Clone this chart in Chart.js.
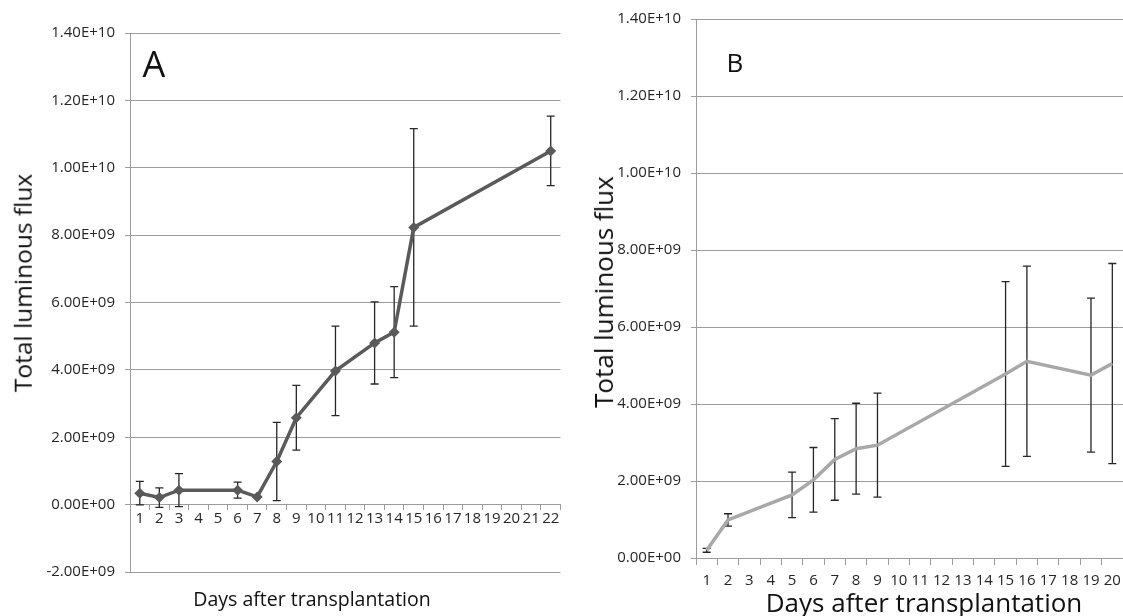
<!DOCTYPE html>
<html>
<head>
<meta charset="utf-8">
<script src="https://cdn.jsdelivr.net/npm/chart.js@4.4.1/dist/chart.umd.min.js"></script>
<style>
html,body{margin:0;padding:0;background:#fff;}
body{width:1123px;height:616px;position:relative;overflow:hidden;font-family:'Open Sans',sans-serif;color:#111;}
.box{position:absolute;top:0;height:616px;}
#boxA{left:0;width:566px;}
#boxB{left:566px;width:557px;}
.lbl{position:absolute;white-space:nowrap;line-height:1;transform:translate(-50%,-50%);}
.rot{transform:translate(-50%,-50%) rotate(-90deg);}
</style>
</head>
<body>
<div class="box" id="boxA"><canvas id="chartA" width="566" height="616"></canvas></div>
<div class="box" id="boxB"><canvas id="chartB" width="557" height="616"></canvas></div>

<div class="lbl" style="left:154px;top:64px;font-size:36px">A</div>
<div class="lbl" style="left:735px;top:62px;font-size:26px">B</div>
<div class="lbl rot" style="left:23px;top:283px;font-size:24.5px">Total luminous flux</div>
<div class="lbl rot" style="left:603px;top:292px;font-size:26px">Total luminous flux</div>
<div class="lbl" style="left:312px;top:599px;font-size:19.5px">Days after transplantation</div>
<div class="lbl" style="left:924px;top:602px;font-size:26px">Days after transplantation</div>

<script>
// panel A
const daysA = ['1','2','3','4','5','6','7','8','9','10','11','12','13','14','15','16','17','18','19','20','21','22'];
const fluxA = [0.34e9, 0.21e9, 0.43e9, null, null, 0.43e9, 0.23e9, 1.28e9, 2.58e9, null, 3.97e9, null,
               4.80e9, 5.12e9, 8.23e9, null, null, null, null, null, null, 10.5e9];
const errA  = [0.35e9, 0.29e9, 0.49e9, null, null, 0.24e9, 0, 1.16e9, 0.96e9, null, 1.33e9, null,
               1.22e9, 1.35e9, 2.93e9, null, null, null, null, null, null, 1.03e9];

// panel B
const daysB = ['1','2','3','4','5','6','7','8','9','10','11','12','13','14','15','16','17','18','19','20'];
const fluxB = [0.20e9, 0.99e9, null, null, 1.64e9, 2.03e9, 2.56e9, 2.84e9, 2.93e9, null, null, null,
               null, null, 4.78e9, 5.11e9, null, null, 4.75e9, 5.05e9];
const errB  = [0.05e9, 0.16e9, null, null, 0.59e9, 0.84e9, 1.06e9, 1.18e9, 1.35e9, null, null, null,
               null, null, 2.40e9, 2.47e9, null, null, 2.00e9, 2.60e9];

const GRID = '#9c9c9c';

function sci(v){
  if(Math.abs(v) < 1) return '0.00E+00';
  const [m,e] = v.toExponential(2).split('e');
  const n = parseInt(e,10);
  return m + 'E' + (n<0?'-':'+') + String(Math.abs(n)).padStart(2,'0');
}

// vertical error bars, drawn under the line
const errorBars = {
  id:'errorBars',
  beforeDatasetsDraw(chart, args, opts){
    const {ctx, scales:{y}} = chart;
    const meta = chart.getDatasetMeta(0);
    const vals = chart.data.datasets[0].data;
    ctx.save();
    ctx.strokeStyle = '#262626';
    ctx.lineWidth = 1.3;
    vals.forEach((v,i)=>{
      const e = opts.errors[i];
      if(v==null || !e) return;
      const px = meta.data[i].x;
      const top = y.getPixelForValue(v+e), bot = y.getPixelForValue(v-e);
      ctx.beginPath();
      ctx.moveTo(px, top); ctx.lineTo(px, bot);
      ctx.moveTo(px-opts.cap, top); ctx.lineTo(px+opts.cap, top);
      ctx.moveTo(px-opts.cap, bot); ctx.lineTo(px+opts.cap, bot);
      ctx.stroke();
    });
    ctx.restore();
  }
};

function makeChart(id, labels, values, errors, o){
  return new Chart(document.getElementById(id), {
    type:'line',
    data:{ labels, datasets:[{
      data: values,
      borderColor: o.color, backgroundColor: o.color,
      borderWidth: 3.5, tension: 0, spanGaps: true,
      pointStyle: 'rectRot', pointRadius: o.pointRadius, pointBorderWidth: 0
    }]},
    options:{
      responsive:false, animation:false,
      layout:{ padding:o.padding },
      plugins:{ legend:{display:false}, tooltip:{enabled:false}, errorBars:{errors, cap:4} },
      scales:{
        x:{
          type:'category', position:{y:0}, offset:true,
          afterFit(s){ s.paddingLeft = 0; s.paddingRight = 0; },
          grid:{ offset:true, drawOnChartArea:false, color:GRID, tickLength:o.xTick },
          border:{ color:GRID, width:1 },
          ticks:{ color:'#262626', font:{family:'Open Sans', size:15}, padding:o.xPad, maxRotation:0, autoSkip:false }
        },
        y:{
          min:o.min, max:1.4e10,
          afterFit(s){ s.width = 130; },
          grid:{ color:GRID, tickLength:5 },
          border:{ color:GRID, width:1 },
          ticks:{ stepSize:2e9, padding:10, color:'#262626', font:{family:'Open Sans', size:15}, callback:v=>sci(v) }
        }
      }
    },
    plugins:[errorBars]
  });
}

makeChart('chartA', daysA, fluxA, errA, {
  color:'#5a5a5a', pointRadius:5.5, min:-2e9, xTick:5, xPad:0,
  padding:{left:0, top:33, right:1, bottom:44}
});
makeChart('chartB', daysB, fluxB, errB, {
  color:'#a8a8a8', pointRadius:0, min:0, xTick:6, xPad:8,
  padding:{left:0, top:18, right:0, bottom:58}
});
</script>
</body>
</html>
